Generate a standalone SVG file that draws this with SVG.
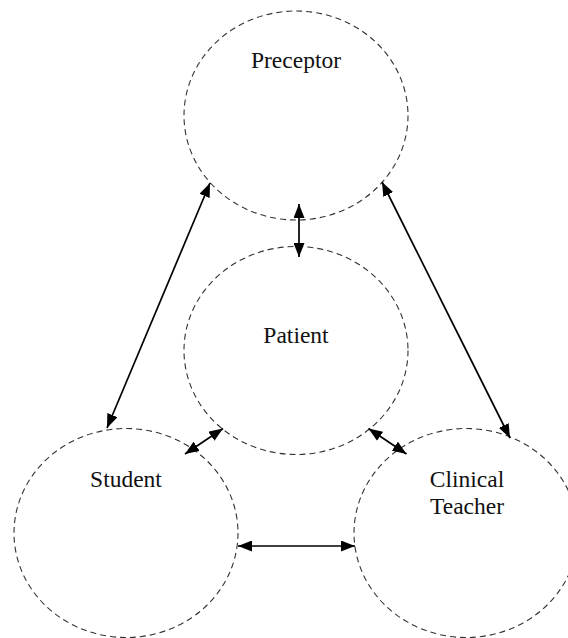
<svg xmlns="http://www.w3.org/2000/svg" width="568" height="638" viewBox="0 0 568 638">
<defs>
<style>
.node ellipse{fill:none;stroke:#333;stroke-width:1.1;stroke-dasharray:6 4}
.node text{font-family:"Liberation Serif","Times New Roman",serif;font-size:23.5px;fill:#111;text-anchor:middle}
.edges line{stroke:#000;stroke-width:1.7;marker-start:url(#ah);marker-end:url(#ah)}
</style>
<marker id="ah" viewBox="0 0 14 11" refX="14" refY="5.5" markerWidth="14" markerHeight="11" markerUnits="userSpaceOnUse" orient="auto-start-reverse">
<path d="M0,0 L14,5.5 L0,11 Z" fill="#000"/>
</marker>
</defs>
<rect width="568" height="638" fill="#fff"/>
<g id="preceptor" class="node">
<ellipse cx="296" cy="115.5" rx="112" ry="104.5"/>
<text x="296" y="68">Preceptor</text>
</g>
<g id="patient" class="node">
<ellipse cx="296" cy="350.5" rx="112" ry="104"/>
<text x="296" y="343">Patient</text>
</g>
<g id="student" class="node">
<ellipse cx="126" cy="533" rx="112" ry="104.5"/>
<text x="126" y="487">Student</text>
</g>
<g id="clinical-teacher" class="node">
<ellipse cx="466" cy="533" rx="112" ry="104.5"/>
<text x="467" y="487">Clinical</text>
<text x="467" y="514">Teacher</text>
</g>
<g id="connectors" class="edges">
<line x1="210" y1="183" x2="107" y2="428"/>
<line x1="382" y1="182" x2="510" y2="438"/>
<line x1="299" y1="204" x2="299" y2="257"/>
<line x1="223" y1="428.5" x2="185" y2="454"/>
<line x1="368.5" y1="428.5" x2="406.5" y2="454"/>
<line x1="238" y1="546" x2="355" y2="546"/>
</g>
</svg>
